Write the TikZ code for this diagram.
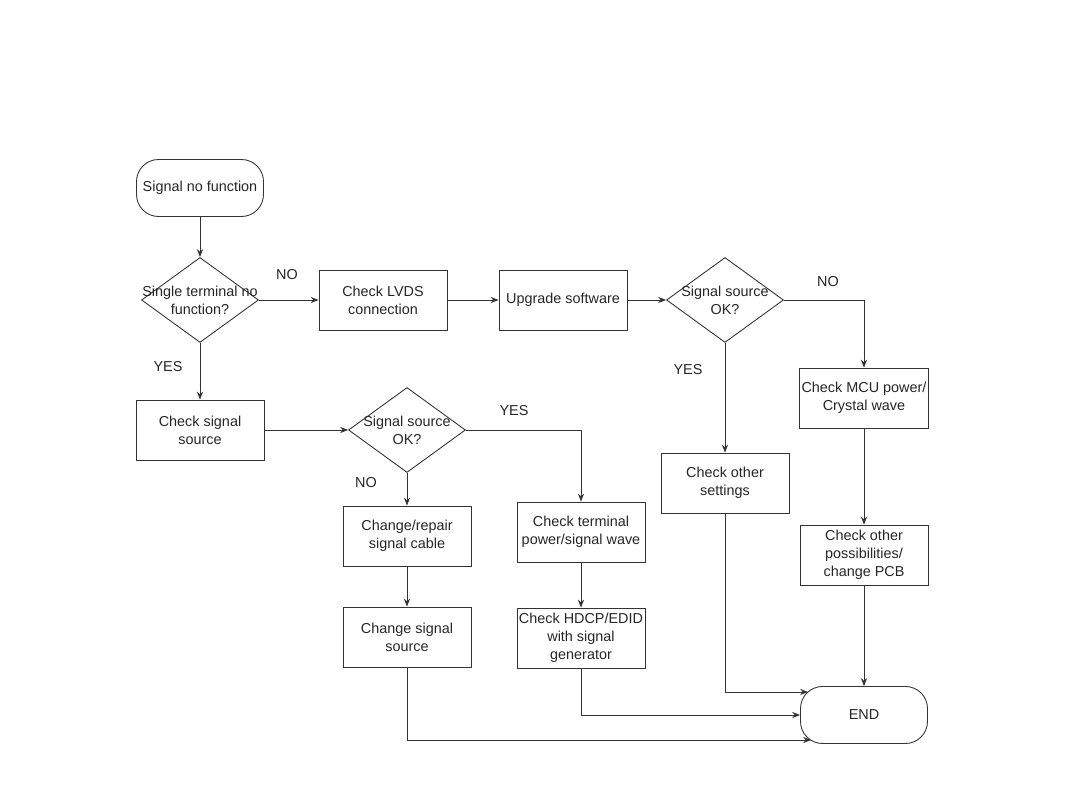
\documentclass[tikz,border=0pt]{standalone}
\usepackage{fontspec}
\setmainfont{Liberation Sans}
\usetikzlibrary{shapes.geometric, arrows.meta, calc}

\begin{document}
\begin{tikzpicture}[x=0.02cm, y=-0.02cm,
  every node/.style={font=\fontsize{8.2}{10.2}\selectfont, text=black!85},
  line/.style={draw=black!80, line width=0.5pt},
  box/.style={line, rectangle, align=center, minimum width=2.56cm, minimum height=1.2cm, inner sep=1pt},
  terminal/.style={line, rectangle, rounded corners=0.44cm, minimum width=2.54cm, minimum height=1.14cm},
  decision/.style={line, diamond, inner sep=0pt, minimum width=2.34cm, minimum height=1.7cm},
  arrow/.style={line, -{Stealth[length=4.5pt, width=3.5pt]}}]
  \useasboundingbox (0,0) rectangle (1080,810);

  % Left column
  \node[terminal] (start) at (200, 188) {Signal no function};
  \node[decision, label={[align=center]center:Single terminal no\\function?}] (dec1) at (200, 300) {};
  \node[box] (signal) at (200, 430) {Check signal\\source};

  % Top row
  \node[box] (lvds) at (383, 300) {Check LVDS\\connection};
  \node[box] (upgrade) at (563, 300) {Upgrade software};
  \node[decision, label={[align=center]center:Signal source\\OK?}] (dec2) at (725, 300) {};

  % Right branch
  \node[box] (mcu) at (864, 398) {Check MCU power/\\Crystal wave};
  \node[box] (settings) at (725, 483) {Check other\\settings};
  \node[box] (pcb) at (864, 555) {Check other\\possibilities/\\change PCB};
  \node[terminal] (finish) at (864, 715) {END};

  % Middle branch
  \node[decision, label={[align=center]center:Signal source\\OK?}] (dec3) at (407, 430) {};
  \node[box] (cable) at (407, 536) {Change/repair\\signal cable};
  \node[box] (source) at (407, 637) {Change signal\\source};
  \node[box] (terminal) at (581, 532) {Check terminal\\power/signal wave};
  \node[box] (hdcp) at (581, 638) {Check HDCP/EDID\\with signal\\generator};

  % Branch labels
  \node (no1) at (287, 275) {NO};
  \node (no2) at (828, 282) {NO};
  \node (yes1) at (168, 367) {YES};
  \node (yes2) at (688, 370) {YES};
  \node (yes3) at (514, 411) {YES};
  \node (no3) at (366, 483) {NO};

  % Connectors
  \draw[arrow] (start) -- (dec1);
  \draw[arrow] (dec1) -- (lvds);
  \draw[arrow] (lvds) -- (upgrade);
  \draw[arrow] (upgrade) -- (dec2);
  \draw[arrow] (dec2.east) -| (mcu.north);
  \draw[arrow] (dec2) -- (settings);
  \draw[arrow] (mcu) -- (pcb);
  \draw[arrow] (pcb) -- (finish);
  \draw[arrow] (settings.south) |- ($(finish.west)+(8,-23)$);
  \draw[arrow] (dec1) -- (signal);
  \draw[arrow] (signal) -- (dec3);
  \draw[arrow] (dec3.east) -| (terminal.north);
  \draw[arrow] (dec3) -- (cable);
  \draw[arrow] (cable) -- (source);
  \draw[arrow] (terminal) -- (hdcp);
  \draw[arrow] (hdcp.south) |- (finish.west);
  \draw[arrow] (source.south) |- ($(finish.west)+(11,25)$);
\end{tikzpicture}
\end{document}
